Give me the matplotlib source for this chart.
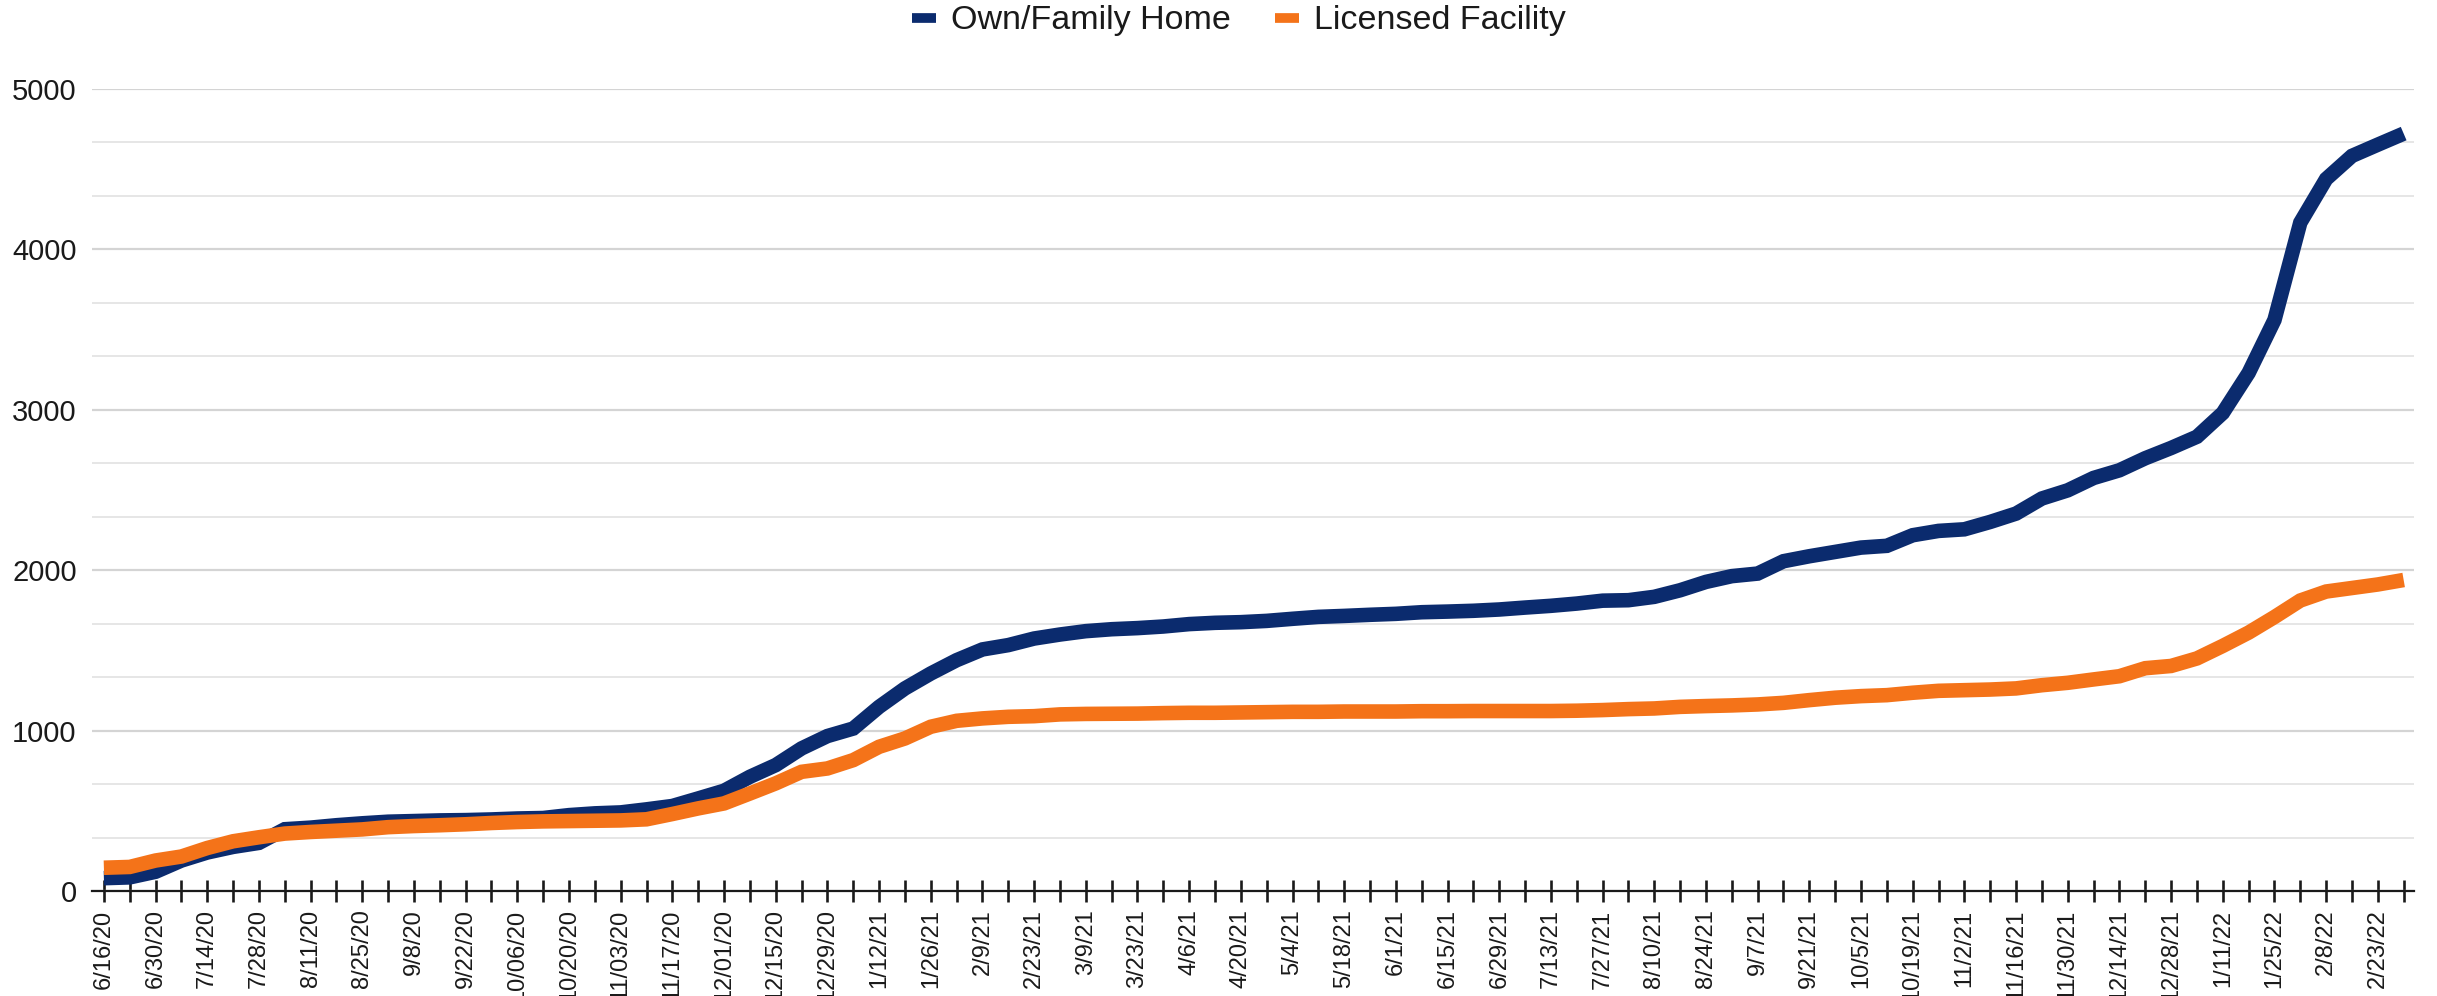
import matplotlib
matplotlib.use("Agg")
import matplotlib.pyplot as plt
from matplotlib.ticker import MultipleLocator, FixedLocator
from matplotlib.lines import Line2D

plt.rcParams['font.family'] = ['Liberation Sans', 'DejaVu Sans']

# ---- data (weekly counts) ----
tick_labels = ['6/16/20', '6/30/20', '7/14/20', '7/28/20', '8/11/20', '8/25/20', '9/8/20',
               '9/22/20', '10/06/20', '10/20/20', '11/03/20', '11/17/20', '12/01/20',
               '12/15/20', '12/29/20', '1/12/21', '1/26/21', '2/9/21', '2/23/21', '3/9/21',
               '3/23/21', '4/6/21', '4/20/21', '5/4/21', '5/18/21', '6/1/21', '6/15/21',
               '6/29/21', '7/13/21', '7/27/21', '8/10/21', '8/24/21', '9/7/21', '9/21/21',
               '10/5/21', '10/19/21', '11/2/21', '11/16/21', '11/30/21', '12/14/21',
               '12/28/21', '1/11/22', '1/25/22', '2/8/22', '2/23/22']

own_family_home = [80, 85, 120, 190, 240, 275, 300, 385, 395, 410,
                   422, 432, 436, 440, 442, 446, 452, 455, 473, 484,
                   490, 509, 530, 577, 625, 712, 785, 889, 966, 1013,
                   1148, 1263, 1356, 1439, 1506, 1533, 1574, 1599, 1620, 1632,
                   1639, 1649, 1664, 1672, 1676, 1684, 1697, 1709, 1715, 1722,
                   1728, 1738, 1742, 1747, 1755, 1767, 1778, 1792, 1810, 1813,
                   1834, 1875, 1927, 1963, 1979, 2056, 2087, 2114, 2141, 2152,
                   2218, 2245, 2255, 2301, 2353, 2447, 2498, 2575, 2623, 2698,
                   2762, 2832, 2980, 3230, 3560, 4167, 4439, 4583, 4653, 4722]

licensed_facility = [145, 150, 190, 215, 268, 310, 335, 358, 368, 376,
                     384, 398, 405, 410, 416, 424, 430, 434, 436, 438,
                     440, 447, 480, 515, 546, 608, 671, 743, 764, 816,
                     899, 951, 1024, 1061, 1076, 1086, 1090, 1101, 1104, 1105,
                     1106, 1109, 1111, 1111, 1113, 1115, 1117, 1117, 1119, 1119,
                     1119, 1121, 1121, 1122, 1122, 1122, 1122, 1124, 1128, 1134,
                     1138, 1148, 1153, 1157, 1163, 1173, 1190, 1205, 1215, 1221,
                     1236, 1248, 1252, 1256, 1263, 1283, 1298, 1319, 1339, 1389,
                     1403, 1450, 1528, 1611, 1708, 1811, 1867, 1889, 1911, 1939]

series_names = ['Own/Family Home', 'Licensed Facility']
colors = ['#0b2b6e', '#f47319']

W, H = 2437, 996
fig = plt.figure(figsize=(W / 100, H / 100), dpi=100)
ax = fig.add_axes([92 / W, 1 - 891 / H, (2414 - 92) / W, (891 - 89) / H])

x = list(range(len(own_family_home)))
ax.plot(x, own_family_home, color=colors[0], lw=10.5, solid_capstyle='butt',
        solid_joinstyle='miter', zorder=3)
ax.plot(x, licensed_facility, color=colors[1], lw=10.5, solid_capstyle='butt',
        solid_joinstyle='miter', zorder=4)

ax.set_xlim(-0.46, len(x) - 1 + 0.4)
ax.set_ylim(0, 5000)

# x ticks: every week, labels every other week
ax.set_xticks(x)
labels = [tick_labels[i // 2] if i % 2 == 0 else '' for i in x]
ax.set_xticklabels(labels, rotation=90, ha='center', va='top', fontsize=17, color='#1a1a1a')
ax.tick_params(axis='x', direction='inout', length=16.5, width=1.9, color='#1a1a1a', pad=5)

# y ticks
ax.yaxis.set_major_locator(MultipleLocator(1000))
ax.yaxis.set_minor_locator(FixedLocator([v * 1000 / 3 for v in range(16) if v % 3 != 0]))
ax.tick_params(axis='y', which='both', length=0, labelsize=21, labelcolor='#1a1a1a', pad=11)
ax.grid(axis='y', which='major', color='#d4d4d4', lw=1.6, zorder=0)
ax.grid(axis='y', which='minor', color='#e6e6e6', lw=1.4, zorder=0)
ax.set_axisbelow(True)

for s in ['top', 'right', 'left']:
    ax.spines[s].set_visible(False)
ax.spines['bottom'].set_color('#1a1a1a')
ax.spines['bottom'].set_linewidth(1.6)
ax.spines['bottom'].set_zorder(5)

handles = [Line2D([], [], color=c, lw=7, solid_capstyle='butt') for c in colors]
fig.legend(handles, series_names, loc='center', bbox_to_anchor=(1239 / W, 1 - 21 / H),
           ncol=2, frameon=False, fontsize=24.5, handlelength=0.7, handletextpad=0.45,
           columnspacing=1.3, labelcolor='#1a1a1a')

fig.savefig('out.png', dpi=100, facecolor='white')
